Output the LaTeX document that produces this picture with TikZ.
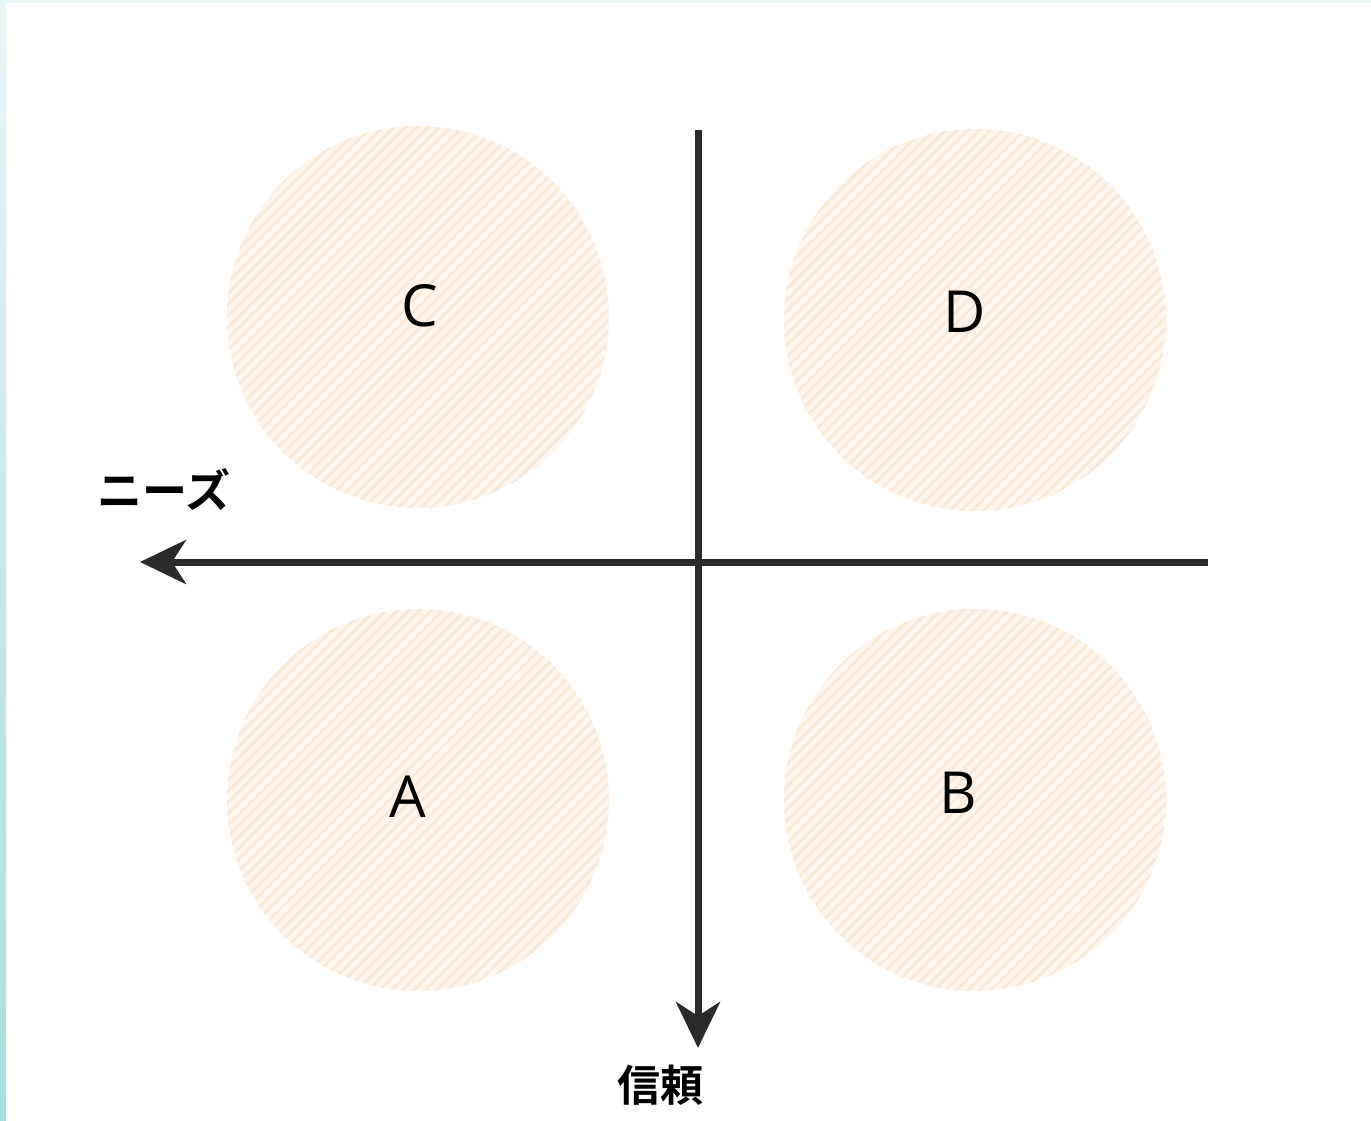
\documentclass[tikz,border=0pt]{standalone}
\usepackage{fontspec}
\setmainfont{Open Sans}
\newfontfamily\jpfont{Noto Sans CJK JP}[BoldFont={Noto Sans CJK JP Bold}]
\usetikzlibrary{arrows.meta, patterns.meta, positioning}
\definecolor{peach}{RGB}{254,246,238}
\definecolor{peachline}{RGB}{250,232,216}
\definecolor{axisgray}{RGB}{43,43,43}
\definecolor{edgetop}{RGB}{232,246,246}
\definecolor{edgebot}{RGB}{164,221,220}

\begin{document}
\begin{tikzpicture}[
    x=1pt, y=-1pt,
    blob/.style={circle, minimum size=382pt, inner sep=0pt,
                 preaction={fill=peach},
                 pattern={Lines[angle=45, distance=8pt, line width=2.6pt]},
                 pattern color=peachline},
    letter/.style={font=\fontsize{58}{60}\selectfont, inner sep=0pt},
    axis/.style={-{Stealth[length=46pt, width=44pt, inset=14pt]}, line width=7pt, color=axisgray},
    axislabel/.style={font=\jpfont\bfseries\fontsize{45}{48}\selectfont}
]
\useasboundingbox (0,0) rectangle (1371,1121);

% --- frame edges ---
\fill[edgetop] (0,0) rectangle (1371,3);
\shade[top color=edgetop, bottom color=edgebot] (0,0) rectangle (6,1121);

% --- quadrants ---
\node[blob] (qc) at (418,317) {};
\node[blob] (qd) at (975,320) {};
\node[blob] (qa) at (418,800) {};
\node[blob] (qb) at (975,800) {};
\node[letter] (lc) at ([shift={(2,-11)}]qc.center) {C};
\node[letter] (ld) at ([shift={(-10,-8)}]qd.center) {D};
\node[letter] (la) at ([shift={(-10,-3)}]qa.center) {A};
\node[letter] (lb) at ([shift={(-17,-7)}]qb.center) {B};

% --- axes ---
\coordinate (xfrom) at (1208,562);
\coordinate (xto) at (140,562);
\coordinate (yfrom) at (698,130);
\coordinate (yto) at (698,1048);
\draw[axis] (xfrom) -- (xto);
\draw[axis] (yfrom) -- (yto);

% axis labels
\node[axislabel] (needs) at (164,490) {ニーズ};
\node[axislabel, font=\jpfont\bfseries\fontsize{43}{46}\selectfont] (trust) at (660,1085) {信頼};

\end{tikzpicture}
\end{document}
